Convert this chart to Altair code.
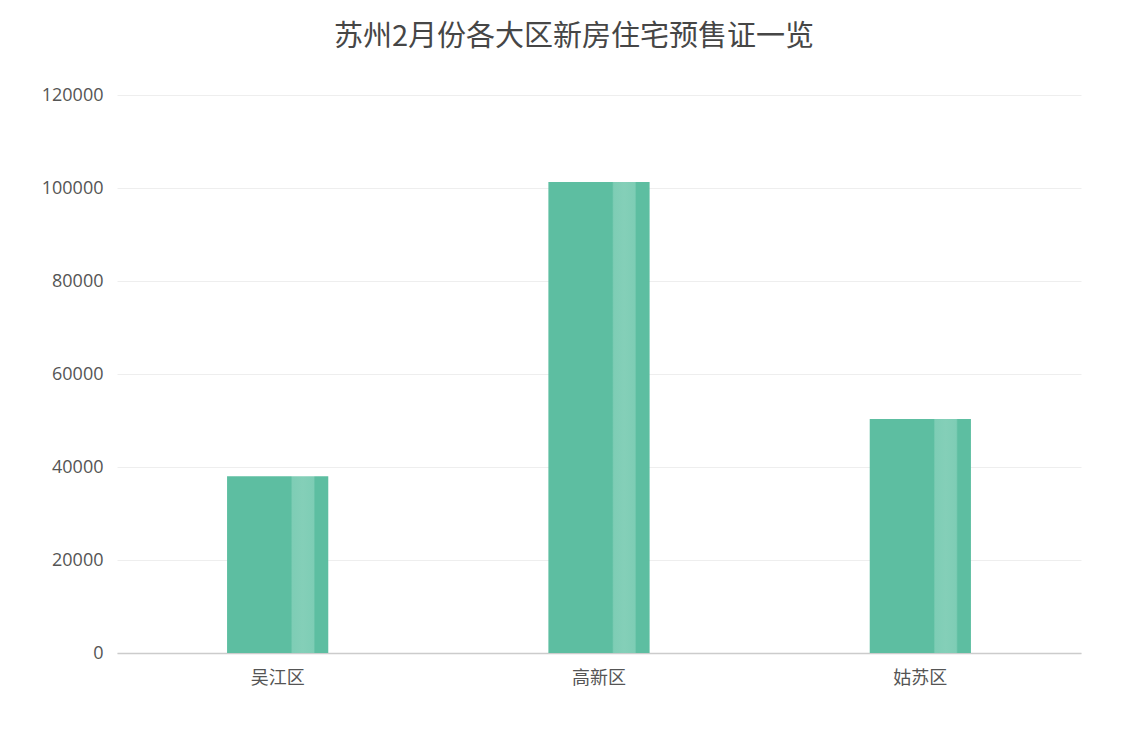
import altair as alt
import pandas as pd

districts = ["吴江区", "高新区", "姑苏区"]
values = [38000, 101300, 50300]

df = pd.DataFrame({"district": districts, "value": values})

grad = alt.Gradient(
    gradient="linear",
    x1=0, x2=1, y1=0, y2=0,
    stops=[
        alt.GradientStop(color="#5dbea1", offset=0),
        alt.GradientStop(color="#5dbea1", offset=0.63),
        alt.GradientStop(color="#7ecdb5", offset=0.645),
        alt.GradientStop(color="#84cfb8", offset=0.75),
        alt.GradientStop(color="#7ecdb5", offset=0.855),
        alt.GradientStop(color="#5dbea1", offset=0.87),
        alt.GradientStop(color="#5dbea1", offset=1),
    ],
)

chart = (
    alt.Chart(df)
    .mark_bar(color=grad)
    .encode(
        x=alt.X(
            "district:N",
            sort=districts,
            title=None,
            scale=alt.Scale(paddingInner=0.685, paddingOuter=0.3425),
            axis=alt.Axis(
                labelAngle=0,
                labelFontSize=18,
                labelColor="#555555",
                labelPadding=16,
                ticks=False,
                domainColor="#cccccc",
                domainWidth=1.5,
                grid=False,
                labelFont="Noto Sans CJK SC",
            ),
        ),
        y=alt.Y(
            "value:Q",
            title=None,
            scale=alt.Scale(domain=[0, 120000]),
            axis=alt.Axis(
                values=[0, 20000, 40000, 60000, 80000, 100000, 120000],
                labelFontSize=18,
                labelColor="#555555",
                labelPadding=14,
                ticks=False,
                domain=False,
                gridColor="#eeeeee",
                labelFont="Open Sans",
                format="d",
            ),
        ),
    )
    .properties(
        width=964,
        height=558,
        title=alt.TitleParams(
            "苏州2月份各大区新房住宅预售证一览",
            fontSize=29,
            fontWeight="normal",
            color="#464646",
            font="Noto Sans CJK SC",
            anchor="middle",
            dx=-25,
            offset=34,
        ),
        padding={"left": 33, "top": 15, "right": 50, "bottom": 40},
    )
    .configure_view(stroke=None)
)

chart.save("out.html", embed_options={"renderer": "svg", "actions": False})
